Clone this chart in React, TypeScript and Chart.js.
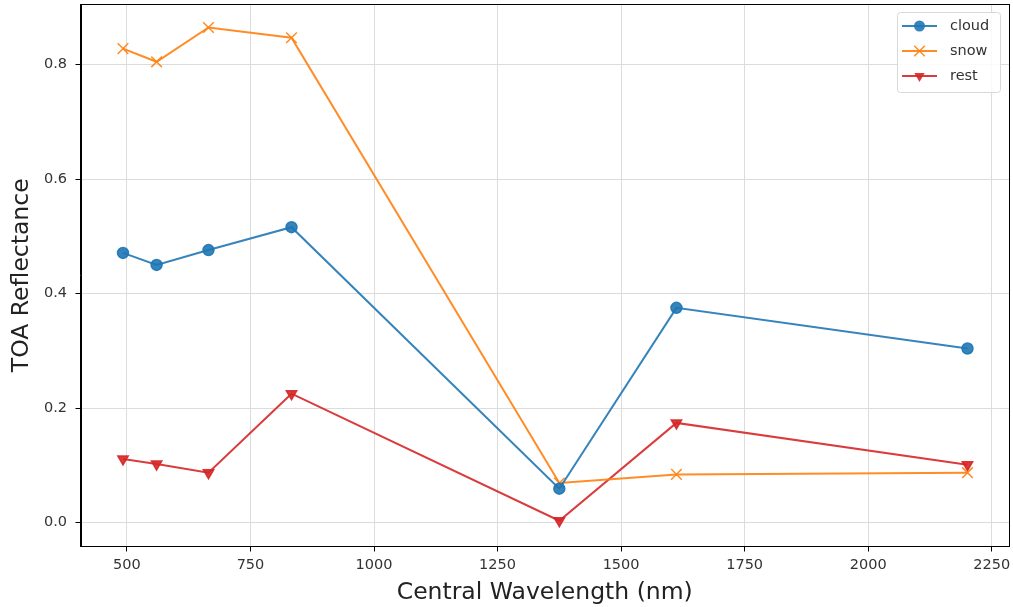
import React, { useEffect, useRef } from "react";
import { Chart, registerables } from "chart.js";
Chart.register(...registerables);

const wavelengths = [492, 560, 665, 833, 1375, 1612, 2201];
const cloud = [0.471, 0.450, 0.476, 0.516, 0.059, 0.375, 0.304];
const snow = [0.828, 0.805, 0.865, 0.847, 0.069, 0.084, 0.087];
const rest = [0.111, 0.102, 0.087, 0.225, 0.003, 0.174, 0.101];
const xTicks = [500, 750, 1000, 1250, 1500, 1750, 2000, 2250];
const yTicks = [0.0, 0.2, 0.4, 0.6, 0.8];

const FONT = "'DejaVu Sans', sans-serif";

const series = [
  { label: "cloud", data: cloud, color: "rgba(31,119,180,0.9)", style: "circle", rot: 0, r: 5.5 },
  { label: "snow", data: snow, color: "rgba(255,127,14,0.9)", style: "crossRot", rot: 0, r: 7.5 },
  { label: "rest", data: rest, color: "rgba(214,39,40,0.9)", style: "triangle", rot: 180, r: 6 },
];

function marker(ctx: CanvasRenderingContext2D, style: string, x: number, y: number, r: number) {
  ctx.beginPath();
  if (style === "circle") {
    ctx.arc(x, y, r, 0, Math.PI * 2);
    ctx.fill();
  } else if (style === "crossRot") {
    const d = r * Math.SQRT1_2;
    ctx.lineWidth = 1.5;
    ctx.moveTo(x - d, y - d); ctx.lineTo(x + d, y + d);
    ctx.moveTo(x - d, y + d); ctx.lineTo(x + d, y - d);
    ctx.stroke();
  } else {
    ctx.moveTo(x, y + r);
    ctx.lineTo(x - r * 0.866, y - r * 0.5);
    ctx.lineTo(x + r * 0.866, y - r * 0.5);
    ctx.closePath();
    ctx.fill();
  }
}

const framePlugin = {
  id: "frame",
  afterDraw(chart: any) {
    const { ctx, chartArea: a } = chart;
    ctx.save();
    ctx.strokeStyle = "#000";
    ctx.lineWidth = 1;
    ctx.strokeRect(Math.round(a.left) + 0.5, Math.round(a.top) + 0.5, Math.round(a.right - a.left) - 1, Math.round(a.bottom - a.top) - 1);
    // legend
    const lx = 897, ly = 12, lw = 103, lh = 80;
    ctx.fillStyle = "rgba(255,255,255,0.85)";
    ctx.strokeStyle = "#d8d8d8";
    ctx.lineWidth = 1;
    ctx.beginPath();
    ctx.roundRect(lx + 0.5, ly + 0.5, lw, lh, 3);
    ctx.fill();
    ctx.stroke();
    series.forEach((s, i) => {
      const y = ly + 14 + i * 25;
      ctx.strokeStyle = s.color;
      ctx.lineWidth = 2;
      ctx.beginPath();
      ctx.moveTo(902, y);
      ctx.lineTo(937, y);
      ctx.stroke();
      ctx.fillStyle = s.color;
      marker(ctx, s.style, 919.5, y, s.r);
      ctx.fillStyle = "#333";
      ctx.font = `14.5px ${FONT}`;
      ctx.textBaseline = "middle";
      ctx.textAlign = "left";
      ctx.fillText(s.label, 950, y);
    });
    ctx.restore();
  },
};

export default function App() {
  const ref = useRef<HTMLCanvasElement>(null);
  useEffect(() => {
    document.body.style.margin = "0";
    const chart = new Chart(ref.current!, {
      type: "line",
      data: {
        datasets: series.map((s) => ({
          label: s.label,
          data: wavelengths.map((x, i) => ({ x, y: s.data[i] })),
          borderColor: s.color,
          backgroundColor: s.color,
          pointBackgroundColor: s.color,
          pointBorderColor: s.color,
          pointStyle: s.style as any,
          pointRotation: s.rot,
          pointRadius: s.r,
          pointBorderWidth: 1.5,
          borderWidth: 2,
          tension: 0,
          fill: false,
        })),
      },
      plugins: [framePlugin],
      options: {
        animation: false,
        responsive: false,
        layout: { autoPadding: false, padding: { left: 0, top: 4, right: 4, bottom: 0 } },
        plugins: { legend: { display: false }, tooltip: { enabled: false } },
        scales: {
          x: {
            type: "linear",
            min: 406,
            max: 2285,
            afterBuildTicks: (s: any) => { s.ticks = xTicks.map((v) => ({ value: v })); },
            afterFit: (s: any) => { s.height = 60.5; s.paddingLeft = 0; s.paddingRight = 0; },
            ticks: { color: "#333", font: { family: FONT, size: 14.5 }, padding: 5, maxRotation: 0, autoSkip: false, callback: (v: any) => String(v) },
            grid: { color: "#dcdcdc", lineWidth: 1, tickColor: "#000", tickLength: 5, drawTicks: true },
            border: { display: true, color: "#000" },
            title: { display: true, text: "Central Wavelength (nm)", color: "#222", font: { family: FONT, size: 23.5 }, padding: { top: 0, bottom: 0 } },
          },
          y: {
            type: "linear",
            min: -0.042,
            max: 0.906,
            afterBuildTicks: (s: any) => { s.ticks = yTicks.map((v) => ({ value: v })); },
            afterFit: (s: any) => { s.width = 80.5; s.paddingTop = 0; s.paddingBottom = 0; },
            ticks: { color: "#333", font: { family: FONT, size: 14.5 }, padding: 8.5, autoSkip: false, callback: (v: any) => Number(v).toFixed(1) },
            grid: { color: "#dcdcdc", lineWidth: 1, tickColor: "#000", tickLength: 5, drawTicks: true },
            border: { display: true, color: "#000" },
            title: { display: true, text: "TOA Reflectance", color: "#222", font: { family: FONT, size: 23.5 }, padding: { top: 8, bottom: 0 } },
          },
        },
      },
    });
    return () => chart.destroy();
  }, []);
  return (
    <div style={{ position: "absolute", left: 0, top: 0, width: 1013, height: 607 }}>
      <canvas ref={ref} width={1013} height={607} />
    </div>
  );
}
